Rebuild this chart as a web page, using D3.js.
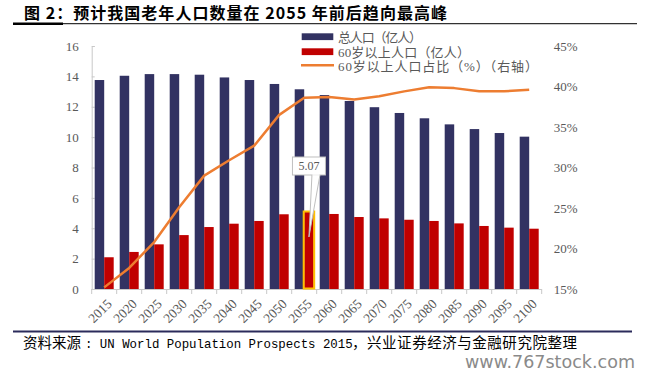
<!DOCTYPE html>
<html><head><meta charset="utf-8">
<script src="https://cdn.jsdelivr.net/npm/d3@7/dist/d3.min.js"></script>
<style>body{margin:0;background:#fff;}svg{display:block;}</style>
</head><body>
<script>
const years = ["2015","2020","2025","2030","2035","2040","2045","2050","2055","2060","2065","2070","2075","2080","2085","2090","2095","2100"];
const totalPop = [13.76,14.04,14.15,14.15,14.11,13.93,13.76,13.50,13.15,12.77,12.38,11.97,11.59,11.24,10.84,10.53,10.27,10.03];
const oldPop = [2.09,2.44,2.94,3.55,4.08,4.30,4.48,4.92,5.07,4.94,4.74,4.65,4.56,4.48,4.32,4.15,4.04,3.97];
const oldShare = [15.2,17.6,20.8,25.1,29.0,30.9,32.7,36.5,38.6,38.7,38.4,38.8,39.4,39.9,39.8,39.4,39.4,39.6];
const leftTicks = [0,2,4,6,8,10,12,14,16];
const rightTicks = [15,20,25,30,35,40,45];
const seriesNames = ["总人口（亿人）","60岁以上人口（亿人）","60岁以上人口占比（%）（右轴）"];
const titleText = "图 2：预计我国老年人口数量在 2055 年前后趋向最高峰";
const highlightYear = "2055";

const W = 650, H = 377;
const svg = d3.select("body").append("svg").attr("width", W).attr("height", H);
const X0 = 91.7, X1 = 541.7, YT = 46, YB = 289;
const cBlue = "#323262", cRed = "#C00000", cOrange = "#ED7D31", cText = "#595959", cAxis = "#c8c8c8";
const serif = "'Liberation Serif','Times New Roman',serif";
const cjk = "'Noto Sans CJK SC','Noto Sans CJK JP',sans-serif";

// Title
svg.append("text").attr("x", 24).attr("y", 19).attr("font-family", cjk).attr("font-weight", "bold")
  .attr("font-size", 16).attr("fill", "#000").attr("textLength", 423).attr("lengthAdjust", "spacing").text(titleText);
svg.append("rect").attr("x", 13).attr("y", 22.5).attr("width", 50).attr("height", 2.5).attr("fill", "#000");
svg.append("rect").attr("x", 63).attr("y", 23.2).attr("width", 574).attr("height", 1).attr("fill", "#000");

const x = d3.scaleBand().domain(years).range([X0, X1]).paddingInner(0.24).paddingOuter(0.12);
const xs = d3.scaleBand().domain(["t","o"]).range([0, x.bandwidth()]);
const yL = d3.scaleLinear().domain([0,16]).range([YB, YT]);
const yR = d3.scaleLinear().domain([15,45]).range([YB, YT]);

// Axes
const gL = svg.append("g").attr("transform", `translate(${X0},0)`)
  .call(d3.axisLeft(yL).tickValues(leftTicks).tickSize(-3).tickPadding(13));
gL.select(".domain").attr("stroke", cAxis);
gL.selectAll(".tick line").attr("stroke", cAxis);
gL.selectAll(".tick text").attr("font-family", serif).attr("font-size", 13).attr("fill", cText);

const gR = svg.append("g").attr("transform", `translate(${X1},0)`)
  .call(d3.axisRight(yR).tickValues(rightTicks).tickSize(0).tickPadding(12).tickFormat(d => d + "%"));
gR.select(".domain").remove();
gR.selectAll(".tick text").attr("font-family", serif).attr("font-size", 13).attr("fill", cText);

// bottom axis line and boundary ticks
svg.append("line").attr("x1", X0).attr("x2", X1).attr("y1", YB + 0.5).attr("y2", YB + 0.5).attr("stroke", cAxis);
const step = x.step();
const bounds = years.map(y => x(y) - x.paddingOuter() * step).concat([X1]);
svg.append("g").selectAll("line").data(bounds).join("line")
  .attr("x1", d => d).attr("x2", d => d).attr("y1", YB).attr("y2", YB + 5).attr("stroke", cAxis);
svg.append("g").selectAll("text").data(years).join("text")
  .attr("transform", d => `translate(${x(d) + x.bandwidth()/2 + 2},${YB + 9}) rotate(-45)`)
  .attr("text-anchor", "end").attr("dy", "0.7em").attr("font-family", serif).attr("font-size", 13.5)
  .attr("fill", cText).text(d => d);

// Bars
svg.append("g").selectAll("rect").data(years).join("rect")
  .attr("x", d => x(d) + xs("t")).attr("width", xs.bandwidth())
  .attr("y", (d,i) => yL(totalPop[i])).attr("height", (d,i) => YB - yL(totalPop[i])).attr("fill", cBlue);
svg.append("g").selectAll("rect").data(years).join("rect")
  .attr("x", d => x(d) + xs("o")).attr("width", xs.bandwidth())
  .attr("y", (d,i) => yL(oldPop[i])).attr("height", (d,i) => YB - yL(oldPop[i])).attr("fill", cRed);

// Line
const line = d3.line().x((d,i) => x(years[i]) + x.bandwidth()/2).y(d => yR(d));
svg.append("path").datum(oldShare).attr("d", line).attr("fill", "none").attr("stroke", cOrange)
  .attr("stroke-width", 2.5).attr("stroke-linejoin", "round");

// Highlight and callout
const hi = years.indexOf(highlightYear);
const hx = x(highlightYear) + xs("o");
svg.append("rect").attr("x", hx - 0.5).attr("y", yL(oldPop[hi]) - 0.5).attr("width", xs.bandwidth() + 1)
  .attr("height", YB - yL(oldPop[hi])).attr("fill", "none").attr("stroke", "#FFC000").attr("stroke-width", 2);
const cx = hx + xs.bandwidth()/2, topY = yL(oldPop[hi]);
const bw = 33, bh = 18, by = topY - 55;
svg.append("path").attr("d", `M${cx+3},${by+bh} L${cx},${topY+25} L${cx+11},${by+bh}`)
  .attr("fill", "#fff").attr("stroke", "#bfbfbf").attr("stroke-width", 1);
svg.append("rect").attr("x", cx - bw/2).attr("y", by).attr("width", bw).attr("height", bh)
  .attr("fill", "#fff").attr("stroke", "#bfbfbf");
svg.append("line").attr("x1", cx+3.5).attr("x2", cx+10.5).attr("y1", by+bh).attr("y2", by+bh).attr("stroke", "#fff").attr("stroke-width", 1.5);
svg.append("text").attr("x", cx).attr("y", by + bh/2).attr("dy", "0.35em").attr("text-anchor", "middle")
  .attr("font-family", serif).attr("font-size", 12).attr("fill", cText).text(oldPop[hi].toFixed(2));

// Legend
const lg = svg.append("g");
const rows = [36.7, 51.7, 66.2];
const legendLens = [84, 132, 200];
lg.append("rect").attr("x", 301.7).attr("y", rows[0]-3.4).attr("width", 31.6).attr("height", 6.8).attr("fill", cBlue);
lg.append("rect").attr("x", 301.7).attr("y", rows[1]-3.4).attr("width", 31.6).attr("height", 6.8).attr("fill", cRed);
lg.append("line").attr("x1", 301).attr("x2", 334).attr("y1", rows[2]-1).attr("y2", rows[2]-1).attr("stroke", cOrange).attr("stroke-width", 2.5);
lg.selectAll("text").data(seriesNames).join("text")
  .attr("x", 338).attr("y", (d,i) => rows[i]).attr("dy", "0.38em")
  .attr("textLength", (d,i) => legendLens[i]).attr("lengthAdjust", "spacing")
  .attr("font-family", serif + "," + cjk).attr("font-size", 13).attr("fill", cText).text(d => d);

// Source footer
svg.append("rect").attr("x", 13).attr("y", 330.5).attr("width", 619).attr("height", 2).attr("fill", "#2B2B5B");
const src = svg.append("text").attr("y", 348).attr("fill", "#000");
src.append("tspan").attr("x", 23).attr("font-family", cjk).attr("font-size", 14.5).text("资料来源");
src.append("tspan").attr("x", 85).attr("font-family", "'Liberation Mono',monospace").attr("font-size", 12.4)
  .text(": UN World Population Prospects 2015");
src.append("tspan").attr("x", 352).attr("font-family", cjk).attr("font-size", 14.5).attr("textLength", 225)
  .attr("lengthAdjust", "spacing").text("，兴业证券经济与金融研究院整理");

// watermark
svg.append("text").attr("x", 465).attr("y", 368).attr("font-family", "'DejaVu Sans',sans-serif")
  .attr("font-size", 17).attr("fill", "#8a8a8a").attr("textLength", 170).attr("lengthAdjust", "spacingAndGlyphs")
  .text("www.767stock.com");
</script>
</body></html>
